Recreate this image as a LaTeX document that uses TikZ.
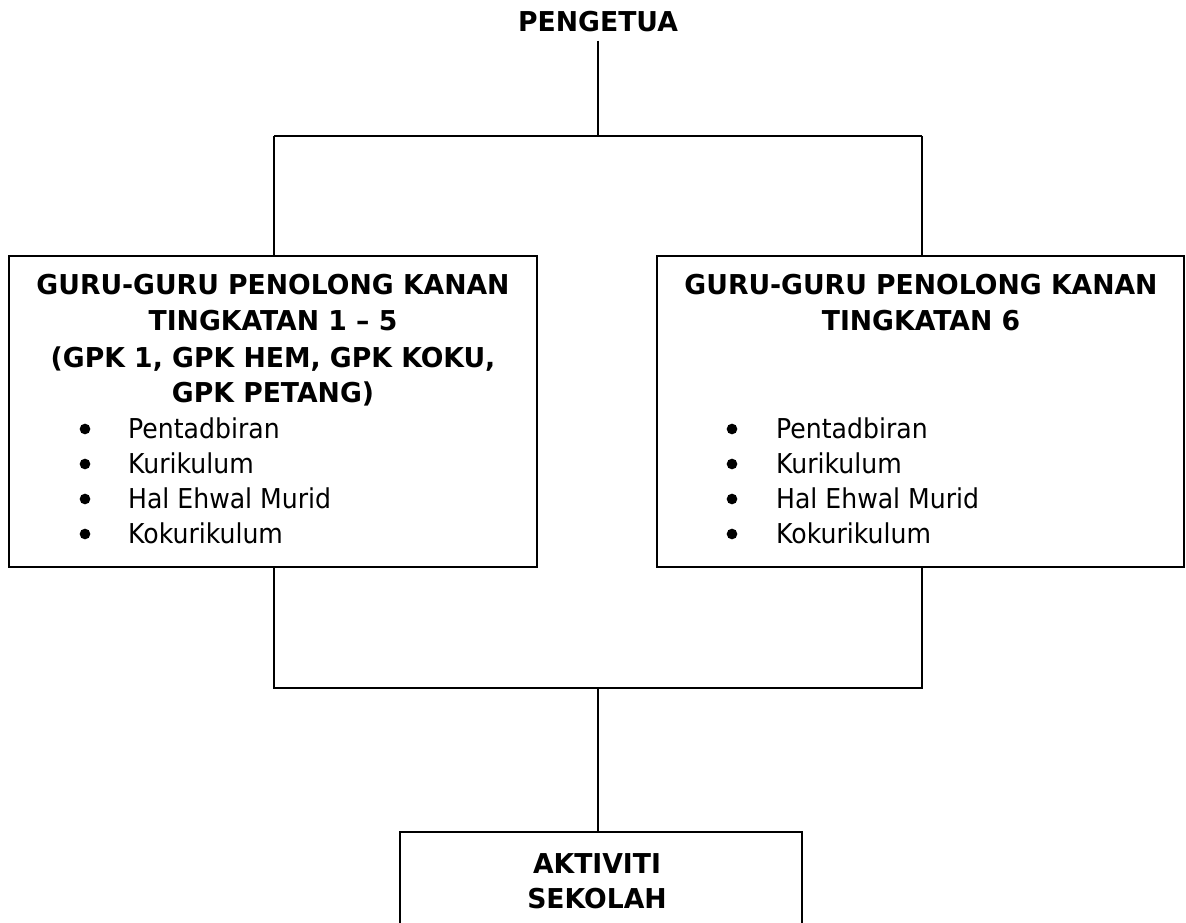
\documentclass[tikz,border=0pt]{standalone}
\usepackage{fontspec}
\setmainfont{DejaVu Sans}
\newfontfamily\hdfont{DejaVu Sans}[FakeStretch=0.975]
\newfontfamily\itfont{DejaVu Sans}[FakeStretch=0.92]
\usetikzlibrary{fit}
\begin{document}
\begin{tikzpicture}[x=0.75pt,y=-0.75pt,line width=1.7pt,
  hd/.style={font=\hdfont\fontsize{20.5}{24}\selectfont\bfseries,anchor=base,inner sep=0pt},
  itm/.style={font=\itfont\fontsize{20.5}{24}\selectfont,anchor=base west,inner sep=0pt},
  bul/.style={circle,fill,draw=none,inner sep=0pt,minimum size=8pt},
  box/.style={draw,inner sep=0pt,fit={#1}}]
\clip (0,0) rectangle (1186,923);
% title
\node[hd] (pengetua) at (598,32) {PENGETUA};
% boxes
\coordinate (lnw) at (9,256);   \coordinate (lse) at (537,567);
\coordinate (rnw) at (657,256); \coordinate (rse) at (1184,567);
\coordinate (anw) at (400,832); \coordinate (ase) at (802,980);
\node[box={(lnw)(lse)}] (left) {};
\node[box={(rnw)(rse)}] (right) {};
\node[box={(anw)(ase)}] (akt) {};
% left box text
\node[hd] (l1) at (273,295) {GURU-GURU PENOLONG KANAN};
\node[hd] (l2) at (273,331) {TINGKATAN 1 – 5};
\node[hd] (l3) at (273,368) {(GPK 1, GPK HEM, GPK KOKU,};
\node[hd] (l4) at (273,403) {GPK PETANG)};
\foreach \t [count=\i] in {Pentadbiran,Kurikulum,Hal Ehwal Murid,Kokurikulum}{
  \node[bul] (lb\i) at (85,{394+35*\i}) {};
  \node[itm] (li\i) at (127,{404+35*\i}) {\t};
}
% right box text
\node[hd] (r1) at (921,295) {GURU-GURU PENOLONG KANAN};
\node[hd] (r2) at (921,331) {TINGKATAN 6};
\foreach \t [count=\i] in {Pentadbiran,Kurikulum,Hal Ehwal Murid,Kokurikulum}{
  \node[bul] (rb\i) at (732,{394+35*\i}) {};
  \node[itm] (ri\i) at (775,{404+35*\i}) {\t};
}
% bottom box text
\node[hd] (a1) at (597,873) {AKTIVITI};
\node[hd] (a2) at (597,908) {SEKOLAH};
% junctions
\coordinate (j1) at (598,136);
\coordinate (jl) at (274,136);
\coordinate (jr) at (922,136);
\coordinate (j2) at (598,688);
\coordinate (jl2) at (274,688);
\coordinate (jr2) at (922,688);
% connectors
\draw ([yshift=-5.25pt]pengetua.south) -- (j1);
\draw (jl) -- (jr);
\draw (jl) -- (jl |- left.north);
\draw (jr) -- (jr |- right.north);
\draw (jl2 |- left.south) -- (jl2) -- (jr2) -- (jr2 |- right.south);
\draw (j2) -- (j2 |- akt.north);
\end{tikzpicture}
\end{document}
